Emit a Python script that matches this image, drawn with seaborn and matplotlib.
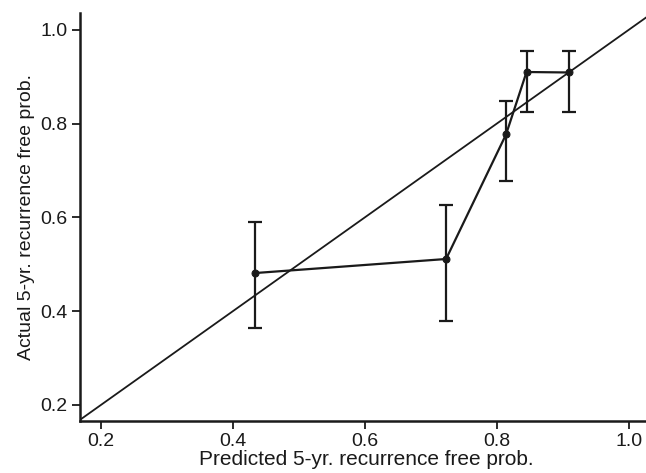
import numpy as np
import pandas as pd
import matplotlib
matplotlib.use("Agg")
import matplotlib.pyplot as plt
import seaborn as sns

# calibration points
predicted = [0.433, 0.723, 0.814, 0.845, 0.909]
actual = [0.481, 0.511, 0.777, 0.910, 0.909]
ci_low = [0.364, 0.379, 0.678, 0.824, 0.824]
ci_high = [0.589, 0.627, 0.849, 0.955, 0.954]
ideal = [0.0, 1.2]

x_ticks = [0.2, 0.4, 0.6, 0.8, 1.0]
y_ticks = [0.2, 0.4, 0.6, 0.8, 1.0]

sns.set_style("ticks")
plt.rcParams['font.family'] = ['Liberation Sans', 'DejaVu Sans']

df = pd.DataFrame({"pred": predicted, "act": actual})

fig = plt.figure(figsize=(6.46, 4.73), dpi=100)
ax = fig.add_axes([0.124, 0.1106, 0.885, 0.862])

col = "#1a1a1a"
ax.plot(ideal, ideal, color=col, lw=1.3, zorder=1)

yerr = np.array([np.array(actual) - np.array(ci_low), np.array(ci_high) - np.array(actual)])
ax.errorbar(predicted, actual, yerr=yerr, fmt="none", ecolor=col, elinewidth=1.6,
            capsize=5, capthick=1.6, zorder=2)
sns.lineplot(data=df, x="pred", y="act", color=col, lw=1.6, marker="o", markersize=5,
             markeredgecolor=col, sort=False, ax=ax, zorder=3)

ax.set_xlim(0.168, 1.035)
ax.set_ylim(0.166, 1.036)
ax.set_xticks(x_ticks)
ax.set_yticks(y_ticks)
ax.set_xticklabels([f"{v:.1f}" for v in x_ticks])
ax.set_yticklabels([f"{v:.1f}" for v in y_ticks])
ax.set_xlabel("Predicted 5-yr. recurrence free prob.", fontsize=15, labelpad=0, color=col)
ax.set_ylabel("Actual 5-yr. recurrence free prob.", fontsize=14, labelpad=4, color=col)
ax.tick_params(axis="both", labelsize=14, length=6, width=1.3, colors=col, pad=3)
sns.despine(ax=ax)
for s in ["left", "bottom"]:
    ax.spines[s].set_linewidth(1.8)
    ax.spines[s].set_color(col)

fig.savefig("out.png", dpi=100)
